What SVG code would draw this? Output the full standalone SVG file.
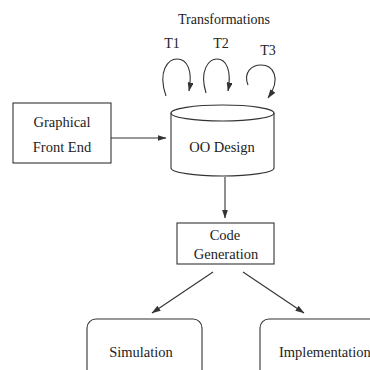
<svg xmlns="http://www.w3.org/2000/svg" width="370" height="370" viewBox="0 0 370 370">
<style>
text{font-family:"Liberation Serif","Times New Roman",serif;font-size:14.5px;fill:#222;text-anchor:middle}
.s{font-size:14px}
.b{fill:#fff;stroke:#333;stroke-width:1.1}
.c{fill:none;stroke:#333;stroke-width:1.1}
</style>
<defs>
<marker id="ah" markerWidth="9" markerHeight="6" refX="8.5" refY="3" orient="auto" markerUnits="userSpaceOnUse">
<path d="M0,0 L9,3 L0,6 Z" fill="#333"/>
</marker>
</defs>
<rect width="370" height="370" fill="#fff"/>
<g id="transformations">
<text x="224" y="24" class="s">Transformations</text>
<text x="172" y="48" class="s">T1</text>
<text x="221" y="48" class="s">T2</text>
<text x="268" y="55" class="s">T3</text>
</g>
<g id="connectors">
<path class="c" d="M166,96 C157,70 169,59 177,59 C187,59 193,70 189,91" marker-end="url(#ah)"/>
<path class="c" d="M206,93 C199,70 209,59 217,59 C226,59 232,70 228,91" marker-end="url(#ah)"/>
<path class="c" d="M248,85 C243,72 252,65 261,65 C273,65 282,78 268,98" marker-end="url(#ah)"/>
<line class="c" x1="111" y1="138" x2="166" y2="138" marker-end="url(#ah)"/>
<line class="c" x1="225" y1="177" x2="225" y2="218" marker-end="url(#ah)"/>
<line class="c" x1="213" y1="272" x2="152" y2="313" marker-end="url(#ah)"/>
<line class="c" x1="243" y1="272" x2="304" y2="313" marker-end="url(#ah)"/>
</g>
<g id="graphical-front-end">
<rect class="b" x="13" y="103" width="98" height="60"/>
<text x="62" y="127">Graphical</text>
<text x="62" y="152">Front End</text>
</g>
<g id="oo-design">
<path class="b" d="M171,113 L171,168 A51.5,8 0 0 0 274,168 L274,113 A51.5,8 0 0 0 171,113 Z"/>
<path class="c" d="M171,113 A51.5,8 0 0 0 274,113"/>
<text x="222" y="152">OO Design</text>
</g>
<g id="code-generation">
<rect class="b" x="177" y="223" width="97" height="41"/>
<text x="225" y="240">Code</text>
<text x="226" y="259">Generation</text>
</g>
<g id="simulation">
<rect class="b" x="87" y="319" width="115" height="70" rx="9"/>
<text x="141" y="357">Simulation</text>
</g>
<g id="implementation">
<rect class="b" x="260" y="319" width="125" height="70" rx="9"/>
<text x="279" y="357" style="text-anchor:start">Implementation</text>
</g>
</svg>
